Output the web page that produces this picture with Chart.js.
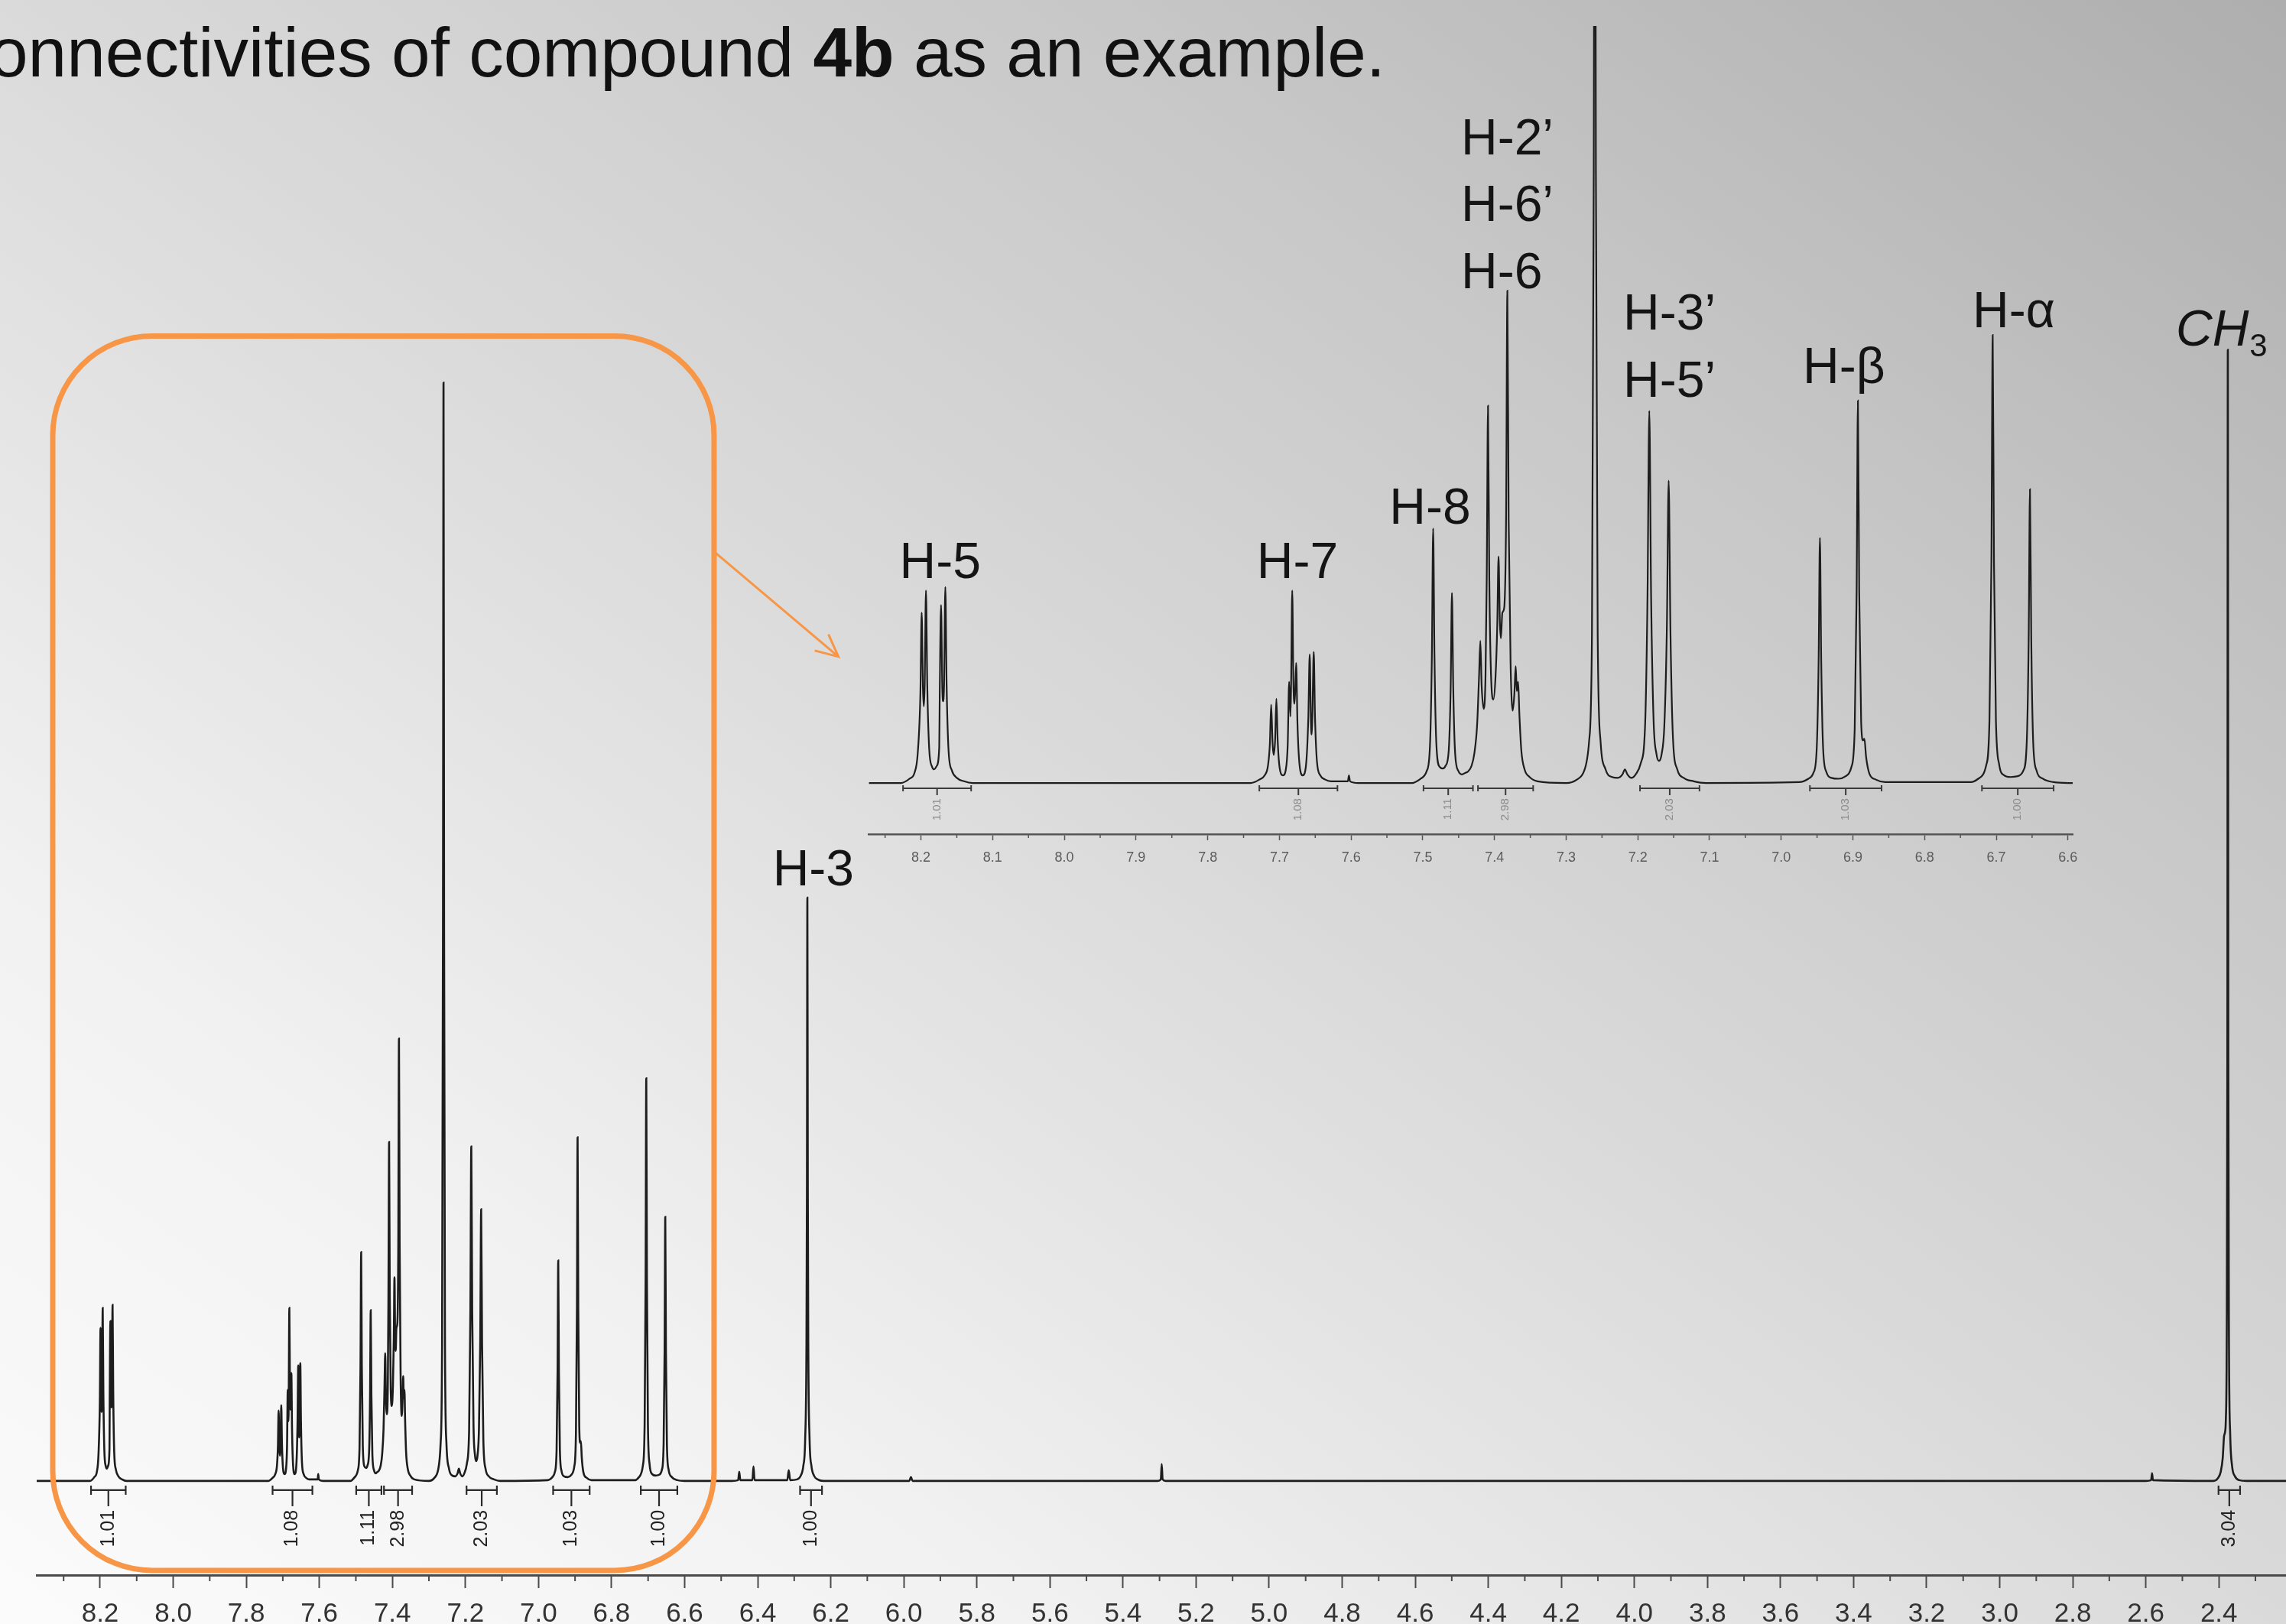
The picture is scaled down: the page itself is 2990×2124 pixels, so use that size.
<!DOCTYPE html>
<html>
<head>
<meta charset="utf-8">
<script src="https://cdn.jsdelivr.net/npm/chart.js@4.4.1/dist/chart.umd.min.js"></script>
<style>
html, body { margin: 0; padding: 0; width: 2990px; height: 2124px; overflow: hidden; }
body {
    position: relative;
    background: linear-gradient(to top right, #fbfbfb 0%, #f2f2f2 22%, #dadada 50%, #c6c6c6 75%, #aeaeae 100%);
    font-family: 'Liberation Sans', Arial, sans-serif;
}
#title {
    position: absolute; left: -14px; top: 23px;
    font-size: 91px; line-height: 91px; white-space: nowrap; color: #111;
}
#main { position: absolute; left: 0; top: 0; }
#inset { position: absolute; left: 1100px; top: 0; }
</style>
</head>
<body>
<div id="title">onnectivities of compound <b>4b</b> as an example.</div>
<canvas id="main" width="2990" height="2146"></canvas>
<canvas id="inset" width="1650" height="1145"></canvas>
<script>
// 1H NMR of 4b (CDCl3), [ppm, intensity] vertices
const traceH5 = [
    [8.374, 0], [8.228, 0], [8.216, 0.5], [8.209, 1.2], [8.2045, 3.5], [8.2008, 10.5], [8.199, 20.0],
    [8.1972, 11], [8.196, 9.0], [8.1948, 11.5], [8.193, 22.6], [8.1912, 11.5], [8.1885, 4.0],
    [8.1845, 1.9], [8.1815, 1.6], [8.178, 2.0], [8.1745, 4.2], [8.1738, 10.5], [8.172, 20.9],
    [8.1702, 11], [8.169, 9.6], [8.1678, 11.5], [8.166, 23.0], [8.1642, 11.5], [8.1615, 3.8],
    [8.157, 1.5], [8.150, 0.6], [8.140, 0.2], [8.128, 0]
]
const traceH7 = [
    [7.740, 0], [7.728, 0.4], [7.7205, 0.9], [7.716, 2.0], [7.7133, 4.6], [7.7115, 9.2], [7.7095, 4.6],
    [7.708, 3.3], [7.706, 5.0], [7.7042, 9.9], [7.7024, 5.0], [7.6995, 1.7], [7.695, 0.9], [7.691, 1.6],
    [7.6884, 4.5], [7.6864, 11.9], [7.6846, 7.8], [7.6837, 11.3], [7.6821, 22.6], [7.6805, 12],
    [7.6791, 9.3], [7.6781, 10.5], [7.6766, 14.1], [7.6748, 7], [7.6721, 2.3], [7.6675, 0.9],
    [7.663, 2.0], [7.6597, 7.5], [7.6577, 15.1], [7.656, 7.0], [7.6549, 5.7], [7.654, 7.7],
    [7.6521, 15.4], [7.6503, 7.7], [7.6476, 2.5], [7.643, 0.9], [7.636, 0.4], [7.628, 0.2],
    [7.6045, 0.2], [7.603, 0.9], [7.6015, 0.2], [7.590, 0]
]
const traceH8 = [
    [7.515, 0], [7.503, 0.5], [7.4945, 1.4], [7.490, 4.3], [7.4873, 15], [7.4855, 29.9], [7.4837, 15],
    [7.481, 4.5], [7.4765, 1.9], [7.472, 1.7], [7.4683, 2.0], [7.4638, 3.8], [7.4611, 11.2],
    [7.4593, 22.3], [7.4575, 11.2], [7.4548, 3.4], [7.4503, 1.4], [7.4455, 1.0], [7.4405, 1.2]
]
// H-2', H-6', H-6 overlap
const traceH26 = [
    [7.4375, 1.3], [7.432, 2.0], [7.428, 3.5], [7.4242, 6.8], [7.4215, 12.5], [7.4197, 16.7],
    [7.4179, 11.5], [7.415, 8.7], [7.4125, 12.5], [7.4108, 24], [7.409, 44.3], [7.4072, 24],
    [7.4045, 12], [7.4015, 9.8], [7.3985, 12.5], [7.3961, 18.5], [7.3943, 26.6], [7.3925, 19],
    [7.391, 17.0], [7.389, 20.0], [7.3865, 20.5], [7.3838, 31], [7.382, 57.8], [7.3802, 31],
    [7.3775, 14], [7.3745, 8.5], [7.3722, 10.5], [7.3704, 13.7], [7.3688, 10.8], [7.367, 11.9],
    [7.3652, 8], [7.3625, 3.8], [7.358, 1.6], [7.351, 0.7], [7.340, 0.2]
]
// CHCl3 and its satellite
const traceSolvent = [
    [7.300, 0], [7.285, 0.4], [7.275, 1.4], [7.268, 4.9], [7.264, 17.5], [7.2615, 72], [7.260, 143.5],
    [7.2585, 72], [7.256, 17.5], [7.252, 4.9], [7.245, 1.6], [7.236, 0.7], [7.228, 0.6],
    [7.2215, 1.0], [7.218, 1.6], [7.2145, 1.0]
]
const traceH35 = [
    [7.209, 0.6], [7.203, 1.0], [7.196, 2.3], [7.190, 6.5], [7.1865, 22], [7.184, 43.7], [7.1815, 22],
    [7.178, 7.3], [7.174, 3.4], [7.1705, 2.6], [7.167, 3.3], [7.163, 6.8], [7.1595, 18.3],
    [7.157, 35.5], [7.1545, 17.8], [7.151, 5.3], [7.145, 1.6], [7.136, 0.6], [7.122, 0.2], [7.105, 0]
]
const traceHbeta = [
    [6.975, 0.1], [6.962, 0.5], [6.955, 1.2], [6.9505, 4.0], [6.9478, 14.4], [6.946, 28.8],
    [6.9442, 14.4], [6.9415, 4.0], [6.937, 1.3], [6.930, 0.6], [6.920, 0.5], [6.910, 0.8],
    [6.902, 1.9], [6.8975, 6.3], [6.8948, 22.5], [6.893, 44.9], [6.8912, 22.5], [6.8885, 7.2],
    [6.8858, 5.0], [6.884, 5.2], [6.8815, 3.0], [6.877, 1.1], [6.868, 0.4], [6.855, 0.1]
]
const traceHalpha = [
    [6.735, 0.1], [6.725, 0.5], [6.714, 2.1], [6.7095, 7.4], [6.7068, 26], [6.705, 52.6],
    [6.7032, 26], [6.7005, 7.4], [6.696, 2.2], [6.689, 0.9], [6.680, 0.7], [6.670, 0.8],
    [6.662, 1.5], [6.6575, 4.8], [6.6548, 17], [6.653, 34.5], [6.6512, 17], [6.6485, 4.8],
    [6.644, 1.5], [6.635, 0.5], [6.620, 0.1], [6.600, 0]
]
// H-3, small impurities, CH2Cl2 and the methyl
const traceHighField = [
    [6.470, 0], [6.4535, 0.1], [6.4505, 1.2], [6.4475, 0.1], [6.4145, 0.1], [6.4115, 1.9], [6.4085, 0.1],
    [6.319, 0.1], [6.315, 1.4], [6.311, 0.1], [6.292, 0.2], [6.282, 0.7], [6.275, 2.0], [6.270, 5.5],
    [6.2665, 18], [6.2652, 38], [6.264, 76.2], [6.2628, 38], [6.2615, 18], [6.258, 5.5], [6.253, 2.0],
    [6.246, 0.7], [6.236, 0.2], [6.220, 0], [5.985, 0], [5.9805, 0.5], [5.976, 0],
    [5.305, 0], [5.2965, 0.2], [5.294, 2.2], [5.2915, 0.2], [5.283, 0],
    [2.600, 0], [2.5855, 0.1], [2.583, 1.0], [2.5805, 0.1], [2.415, 0], [2.402, 0.4], [2.395, 1.2],
    [2.3895, 3.0], [2.386, 5.8], [2.3835, 6.3], [2.381, 8.0], [2.3785, 19], [2.3768, 55],
    [2.3755, 147.8], [2.3742, 55], [2.3725, 19], [2.369, 6], [2.364, 2.0], [2.356, 0.6],
    [2.344, 0.1], [2.325, 0], [2.2163, 0]
]

// integrations
const integralFrom = [8.225, 7.728, 7.499, 7.423, 7.197, 6.960, 6.720, 6.284, 2.401]
const integralTo = [8.130, 7.619, 7.430, 7.346, 7.114, 6.860, 6.620, 6.224, 2.342]
const integralValue = ['1.01', '1.08', '1.11', '2.98', '2.03', '1.03', '1.00', '1.00', '3.04']

// assignments (left edge ppm, baseline height)
const insetLabels = ['H-5', 'H-7', 'H-8', 'H-2’', 'H-6’', 'H-6', 'H-3’', 'H-5’', 'H-β', 'H-α']
const insetLabelPpm = [8.2299, 7.7316, 7.5465, 7.4466, 7.4466, 7.4466, 7.2204, 7.2204, 6.9698, 6.7330]
const insetLabelY = [24.1, 24.1, 30.4, 73.8, 66.0, 58.1, 53.2, 45.3, 47.0, 53.5]
const mainLabels = ['H-3', 'CH']
const mainLabelSub = ['', '3']
const mainLabelPpm = [6.3589, 2.5177]
const mainLabelY = [77.8, 148.3]

// framed region and arrow (main chart coordinates)
const zoomBoxPpm = [8.3298, 6.5194]
const zoomBoxY = [149.6, -11.7]
const arrowPpm = [6.519, 6.179]
const arrowY = [121.4, 107.7]

const trace = [].concat(traceH5, traceH7, traceH8, traceH26, traceSolvent,
    traceH35, traceHbeta, traceHalpha, traceHighField)

const isMajor = (v, step) => Math.abs(v / step - Math.round(v / step)) < 1e-6
const noPad = (scale) => { scale.paddingLeft = 0; scale.paddingRight = 0 }

function drawMinorTicks(chart, step, len, color, width) {
    const { ctx, scales: { x } } = chart
    ctx.save()
    ctx.strokeStyle = color
    ctx.lineWidth = width
    ctx.beginPath()
    x.ticks.forEach(t => {
        if (isMajor(t.value, step)) return
        const px = x.getPixelForValue(t.value)
        ctx.moveTo(px, x.top)
        ctx.lineTo(px, x.top + len)
    })
    ctx.stroke()
    ctx.restore()
}

function drawIntegrals(chart, o) {
    const { ctx, scales: { x, y } } = chart
    const y0 = y.getPixelForValue(0) + o.drop
    ctx.save()
    ctx.strokeStyle = o.color
    ctx.lineWidth = o.lw
    ctx.fillStyle = o.text
    ctx.font = o.font
    integralValue.forEach((v, i) => {
        const a = x.getPixelForValue(integralFrom[i])
        const b = x.getPixelForValue(integralTo[i])
        if (b < x.left || a > x.right) return
        const m = (a + b) / 2
        ctx.beginPath()
        ctx.moveTo(a, y0); ctx.lineTo(b, y0)
        ctx.moveTo(a, y0 - o.cap); ctx.lineTo(a, y0 + o.cap)
        ctx.moveTo(b, y0 - o.cap); ctx.lineTo(b, y0 + o.cap)
        ctx.moveTo(m, y0); ctx.lineTo(m, y0 + o.stem)
        ctx.stroke()
        ctx.save()
        ctx.translate(m, y0 + o.stem + o.gap)
        ctx.rotate(-Math.PI / 2)
        ctx.textAlign = 'right'
        ctx.textBaseline = 'middle'
        ctx.fillText(v, 0, 0)
        ctx.restore()
    })
    ctx.restore()
}

function drawLabels(chart, texts, subs, ppms, ys, italicFirstSub) {
    const { ctx, scales: { x, y } } = chart
    ctx.save()
    ctx.fillStyle = '#141414'
    ctx.textAlign = 'left'
    ctx.textBaseline = 'alphabetic'
    texts.forEach((t, i) => {
        const px = x.getPixelForValue(ppms[i])
        const py = y.getPixelForValue(ys[i])
        const sub = subs ? subs[i] : ''
        ctx.font = (sub && italicFirstSub ? 'italic ' : '') + '66px "Liberation Sans"'
        ctx.fillText(t, px, py)
        if (sub) {
            const w = ctx.measureText(t).width
            ctx.font = '42px "Liberation Sans"'
            ctx.fillText(sub, px + w + 1, py + 14)
        }
    })
    ctx.restore()
}

const mainDecor = {
    id: 'mainDecor',
    afterDraw(chart) {
        const { ctx, scales: { x, y } } = chart
        drawMinorTicks(chart, 0.2, 8, '#4a4a4a', 2)
        drawIntegrals(chart, { drop: 12, cap: 6, stem: 21, gap: 5, lw: 2.2, color: '#2a2a2a', text: '#222', font: '25px "Liberation Sans"' })
        drawLabels(chart, mainLabels, mainLabelSub, mainLabelPpm, mainLabelY, true)

        // orange frame round the aromatic region
        const l = x.getPixelForValue(zoomBoxPpm[0]), r = x.getPixelForValue(zoomBoxPpm[1])
        const t = y.getPixelForValue(zoomBoxY[0]), b = y.getPixelForValue(zoomBoxY[1])
        ctx.save()
        ctx.strokeStyle = '#f79646'
        ctx.lineWidth = 7
        ctx.beginPath()
        ctx.roundRect(l, t, r - l, b - t, 130)
        ctx.stroke()

        const ax = x.getPixelForValue(arrowPpm[0]), ay = y.getPixelForValue(arrowY[0])
        const bx = x.getPixelForValue(arrowPpm[1]), by = y.getPixelForValue(arrowY[1])
        const ang = Math.atan2(by - ay, bx - ax)
        ctx.lineWidth = 3
        ctx.beginPath()
        ctx.moveTo(ax, ay); ctx.lineTo(bx, by)
        ctx.moveTo(bx - 32 * Math.cos(ang - 0.45), by - 32 * Math.sin(ang - 0.45))
        ctx.lineTo(bx, by)
        ctx.lineTo(bx - 32 * Math.cos(ang + 0.45), by - 32 * Math.sin(ang + 0.45))
        ctx.stroke()
        ctx.restore()
    }
}

const insetDecor = {
    id: 'insetDecor',
    afterDraw(chart) {
        drawMinorTicks(chart, 0.1, 5, '#555', 1.5)
        drawIntegrals(chart, { drop: 7, cap: 4, stem: 9, gap: 4, lw: 2, color: '#3a3a3a', text: '#8c8c8c', font: '15px "Liberation Sans"' })
        drawLabels(chart, insetLabels, null, insetLabelPpm, insetLabelY, false)
    }
}

const toPoints = arr => arr.map(p => ({ x: p[0], y: p[1] }))

const mainConfig = {
    type: 'line',
    data: {
        datasets: [{
            data: toPoints(trace),
            borderColor: '#1d1d1d',
            borderWidth: 2.6,
            pointRadius: 0,
            fill: false,
            cubicInterpolationMode: 'monotone',
        }]
    },
    options: {
        responsive: false,
        animation: false,
        devicePixelRatio: 1,
        events: [],
        layout: { padding: { left: 48, right: 0, top: 0, bottom: 0 } },
        plugins: { legend: { display: false }, tooltip: { enabled: false } },
        scales: {
            x: {
                type: 'linear', reverse: true, min: 2.2163, max: 8.3737,
                afterFit: noPad,
                border: { display: true, color: '#4a4a4a', width: 3 },
                grid: {
                    display: true, drawOnChartArea: false, tickLength: 17, tickWidth: 2,
                    tickColor: c => (c.tick && isMajor(c.tick.value, 0.2)) ? '#4a4a4a' : 'rgba(0,0,0,0)',
                },
                ticks: {
                    stepSize: 0.1, maxTicksLimit: 1000, autoSkip: false, includeBounds: false,
                    maxRotation: 0, minRotation: 0, padding: 17, color: '#333',
                    font: { family: 'Liberation Sans', size: 35, lineHeight: 1 },
                    callback: v => isMajor(v, 0.2) ? v.toFixed(1) : '',
                },
            },
            y: { display: false, min: -12.3, max: 193.5 },
        },
    },
    plugins: [mainDecor],
}

const insetConfig = {
    type: 'line',
    data: {
        datasets: [{
            data: toPoints(trace),
            borderColor: '#1d1d1d',
            borderWidth: 2.2,
            pointRadius: 0,
            fill: false,
            cubicInterpolationMode: 'monotone',
        }]
    },
    options: {
        responsive: false,
        animation: false,
        devicePixelRatio: 1,
        events: [],
        layout: { padding: { left: 36.6, right: 39, top: 34, bottom: 0 } },
        plugins: { legend: { display: false }, tooltip: { enabled: false } },
        scales: {
            x: {
                type: 'linear', reverse: true, min: 6.5934, max: 8.2725,
                afterFit: noPad,
                border: { display: true, color: '#555', width: 2.5 },
                grid: {
                    display: true, drawOnChartArea: false, tickLength: 8, tickWidth: 1.5,
                    tickColor: c => (c.tick && isMajor(c.tick.value, 0.1)) ? '#555' : 'rgba(0,0,0,0)',
                },
                ticks: {
                    stepSize: 0.05, maxTicksLimit: 1000, autoSkip: false, includeBounds: false,
                    maxRotation: 0, minRotation: 0, padding: 14, color: '#5c5c5c',
                    font: { family: 'Liberation Sans', size: 18, lineHeight: 1 },
                    callback: v => isMajor(v, 0.1) ? v.toFixed(1) : '',
                },
            },
            y: { display: false, min: -6.01, max: 88.88 },
        },
    },
    plugins: [insetDecor],
}

const mainChart = new Chart(document.getElementById('main'), mainConfig)
const insetChart = new Chart(document.getElementById('inset'), insetConfig)
</script>
</body>
</html>
